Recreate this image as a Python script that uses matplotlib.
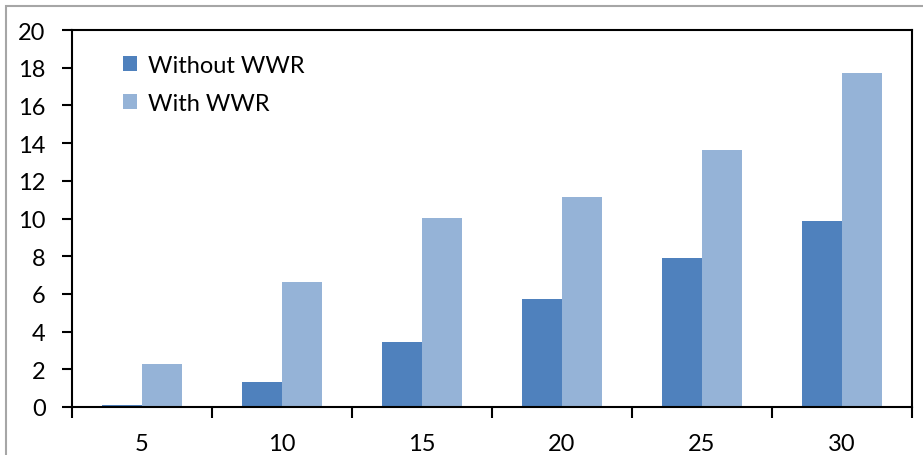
import matplotlib
matplotlib.use("Agg")
import matplotlib.pyplot as plt
from matplotlib.patches import Rectangle
import numpy as np

categories = ["5", "10", "15", "20", "25", "30"]
without_wwr = [0.12, 1.34, 3.47, 5.75, 7.92, 9.85]
with_wwr = [2.30, 6.65, 10.03, 11.16, 13.62, 17.72]
y_ticks = [0, 2, 4, 6, 8, 10, 12, 14, 16, 18, 20]

plt.rcParams["font.family"] = ["Lato", "DejaVu Sans"]

W, H = 923, 456
fig = plt.figure(figsize=(W / 100, H / 100), dpi=100)
fig.patch.set_facecolor("white")

# outer chart border (runs off the right and bottom edges)
fig.patches.append(Rectangle((6 / W, -0.1), 1.2, 1.1 - 7 / H,
                             transform=fig.transFigure, fill=False,
                             edgecolor="#a6a6a6", linewidth=1.5))

ax = fig.add_axes([72 / W, (H - 408) / H, 840 / W, 377 / H])

x = np.arange(len(categories))
bw = 40 / 140
ax.bar(x - bw / 2, without_wwr, bw, color="#4F81BD", label="Without WWR")
ax.bar(x + bw / 2, with_wwr, bw, color="#95B3D7", label="With WWR")

ax.set_xlim(-0.5, len(categories) - 0.5)
ax.set_ylim(0, 20)
ax.set_yticks(y_ticks)
ax.set_yticklabels([str(t) for t in y_ticks])

ax.set_xticks(x)
ax.set_xticklabels(categories)
ax.set_xticks(np.arange(len(categories) + 1) - 0.5, minor=True)
ax.tick_params(axis="x", which="major", length=0, pad=19, labelsize=17)
ax.tick_params(axis="x", which="minor", length=8, width=1.5, direction="out")
ax.tick_params(axis="y", which="major", length=7, width=1.5, direction="out",
               pad=12, labelsize=17)

for s in ax.spines.values():
    s.set_linewidth(1.5)
    s.set_color("black")

ax.legend(loc="upper left", bbox_to_anchor=(0.035, 0.99), frameon=False,
          fontsize=17, handlelength=0.62, handleheight=0.62,
          handletextpad=0.45, labelspacing=0.72)

fig.savefig("out.png", dpi=100)
